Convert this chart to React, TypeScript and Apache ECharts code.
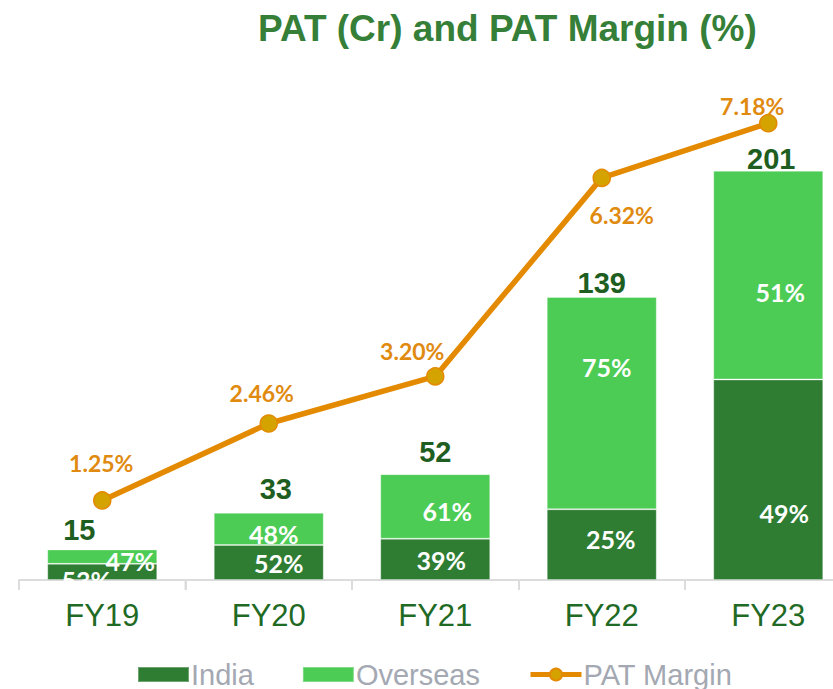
import React, { useEffect, useRef } from "react";
import * as echarts from "echarts";

const categories = ["FY19", "FY20", "FY21", "FY22", "FY23"];
const patTotal = [15, 33, 52, 139, 201];
const indiaShare = [53, 52, 39, 25, 49];
const overseasShare = [47, 48, 61, 75, 51];
const patMargin = [1.25, 2.46, 3.2, 6.32, 7.18];

// label nudges (layout only)
const overseasLabelShift = [[28, 4], [5, 5], [12, 5], [5, -36], [12, 17]];
const indiaLabelShift = [[-16, 8], [10, 0], [6, 1], [9, -6], [16, 33]];
const totalLabelShift = [[-23, -5], [7, -9], [0, -8], [0, 1], [3, 3]];
const marginLabelShift = [[-1, -37], [-7, -30], [-23, -25], [20, 37], [-16, -17]];

const DARK = "#2e7d32";
const LIGHT = "#4ccc55";
const ORANGE = "#e38a00";

export default function App() {
  const ref = useRef<HTMLDivElement>(null);
  useEffect(() => {
    if (!ref.current) return;
    const chart = echarts.init(ref.current, null, { renderer: "svg" });
    const india = patTotal.map((t, i) => +(t * indiaShare[i] / 100).toFixed(2));
    const overseas = patTotal.map((t, i) => +(t - india[i]).toFixed(2));
    const pctLabel = {
      show: true,
      position: "inside",
      color: "#ffffff",
      fontFamily: "Lato",
      fontWeight: "bold",
      fontSize: 25,
    };
    chart.setOption({
      animation: false,
      title: {
        text: "PAT (Cr) and PAT Margin (%)",
        left: 253,
        top: 5,
        textStyle: { fontFamily: "Liberation Sans", fontWeight: "bold", fontSize: 37, color: "#357f39" },
      },
      legend: {
        left: 132,
        top: 655,
        itemWidth: 51,
        itemHeight: 15,
        itemGap: 48,
        lineStyle: { width: 5 },
        data: [
          { name: "India", icon: "rect" },
          { name: "Overseas", icon: "rect" },
          { name: "PAT Margin" },
        ],
        textStyle: { fontFamily: "Liberation Sans", fontSize: 29, color: "#a3a8b2", padding: [0, 0, 0, -3] },
      },
      grid: { left: 19, top: 71, width: 832.5, height: 509 },
      xAxis: {
        type: "category",
        data: categories,
        axisLine: { lineStyle: { color: "#dcdcdc", width: 2 } },
        axisTick: { show: true, length: 10, lineStyle: { color: "#dcdcdc", width: 2 } },
        axisLabel: { fontFamily: "Liberation Sans", fontSize: 31, color: "#1f6a24", margin: 20 },
      },
      yAxis: [
        { type: "value", min: 0, max: 250, show: false, splitLine: { show: false } },
        { type: "value", min: 0, max: 8, show: false, splitLine: { show: false } },
      ],
      series: [
        {
          name: "India",
          type: "bar",
          stack: "pat",
          barWidth: 110,
          itemStyle: { color: DARK, borderColor: "rgba(255,255,255,0.3)", borderWidth: 1 },
          data: india.map((v, i) => ({
            value: v,
            label: { ...pctLabel, offset: indiaLabelShift[i], formatter: indiaShare[i] + "%" },
          })),
          z: 2,
        },
        {
          name: "Overseas",
          type: "bar",
          stack: "pat",
          barWidth: 110,
          itemStyle: { color: LIGHT, borderColor: "rgba(255,255,255,0.3)", borderWidth: 1 },
          data: overseas.map((v, i) => ({
            value: v,
            label: { ...pctLabel, offset: overseasLabelShift[i], formatter: overseasShare[i] + "%" },
          })),
          z: 2,
        },
        {
          name: "Total",
          type: "bar",
          barWidth: 110,
          barGap: "-100%",
          silent: true,
          itemStyle: { color: "rgba(0,0,0,0)" },
          data: patTotal.map((v, i) => ({
            value: v,
            label: {
              show: true,
              position: "top",
              distance: 0,
              offset: totalLabelShift[i],
              formatter: String(v),
              fontFamily: "Liberation Sans",
              fontWeight: "bold",
              fontSize: 29,
              color: "#1e5e20",
            },
          })),
          z: 1,
        },
        {
          name: "PAT Margin",
          type: "line",
          yAxisIndex: 1,
          symbol: "circle",
          symbolSize: 17,
          lineStyle: { color: ORANGE, width: 5.5 },
          itemStyle: { color: "#d4a300", borderColor: ORANGE, borderWidth: 1.5 },
          data: patMargin.map((v, i) => ({
            value: v,
            label: {
              show: true,
              position: "inside",
              offset: marginLabelShift[i],
              formatter: v.toFixed(2) + "%",
              fontFamily: "Lato",
              fontWeight: "bold",
              fontSize: 23,
              color: "#e08a10",
            },
          })),
          z: 5,
        },
      ],
      graphic: [
        {
          type: "rect",
          z: 100,
          shape: { x: 40, y: 581, width: 125, height: 20 },
          style: { fill: "#ffffff" },
          silent: true,
        },
        {
          type: "line",
          z: 101,
          shape: { x1: 185.5, y1: 580, x2: 185.5, y2: 590 },
          style: { stroke: "#dcdcdc", lineWidth: 2 },
          silent: true,
        },
      ],
    });
    return () => chart.dispose();
  }, []);
  return (
    <div style={{ position: "fixed", left: 0, top: 0, width: 833, height: 689, overflow: "hidden", background: "#fff" }}>
      <div ref={ref} style={{ width: 852, height: 689 }} />
    </div>
  );
}
